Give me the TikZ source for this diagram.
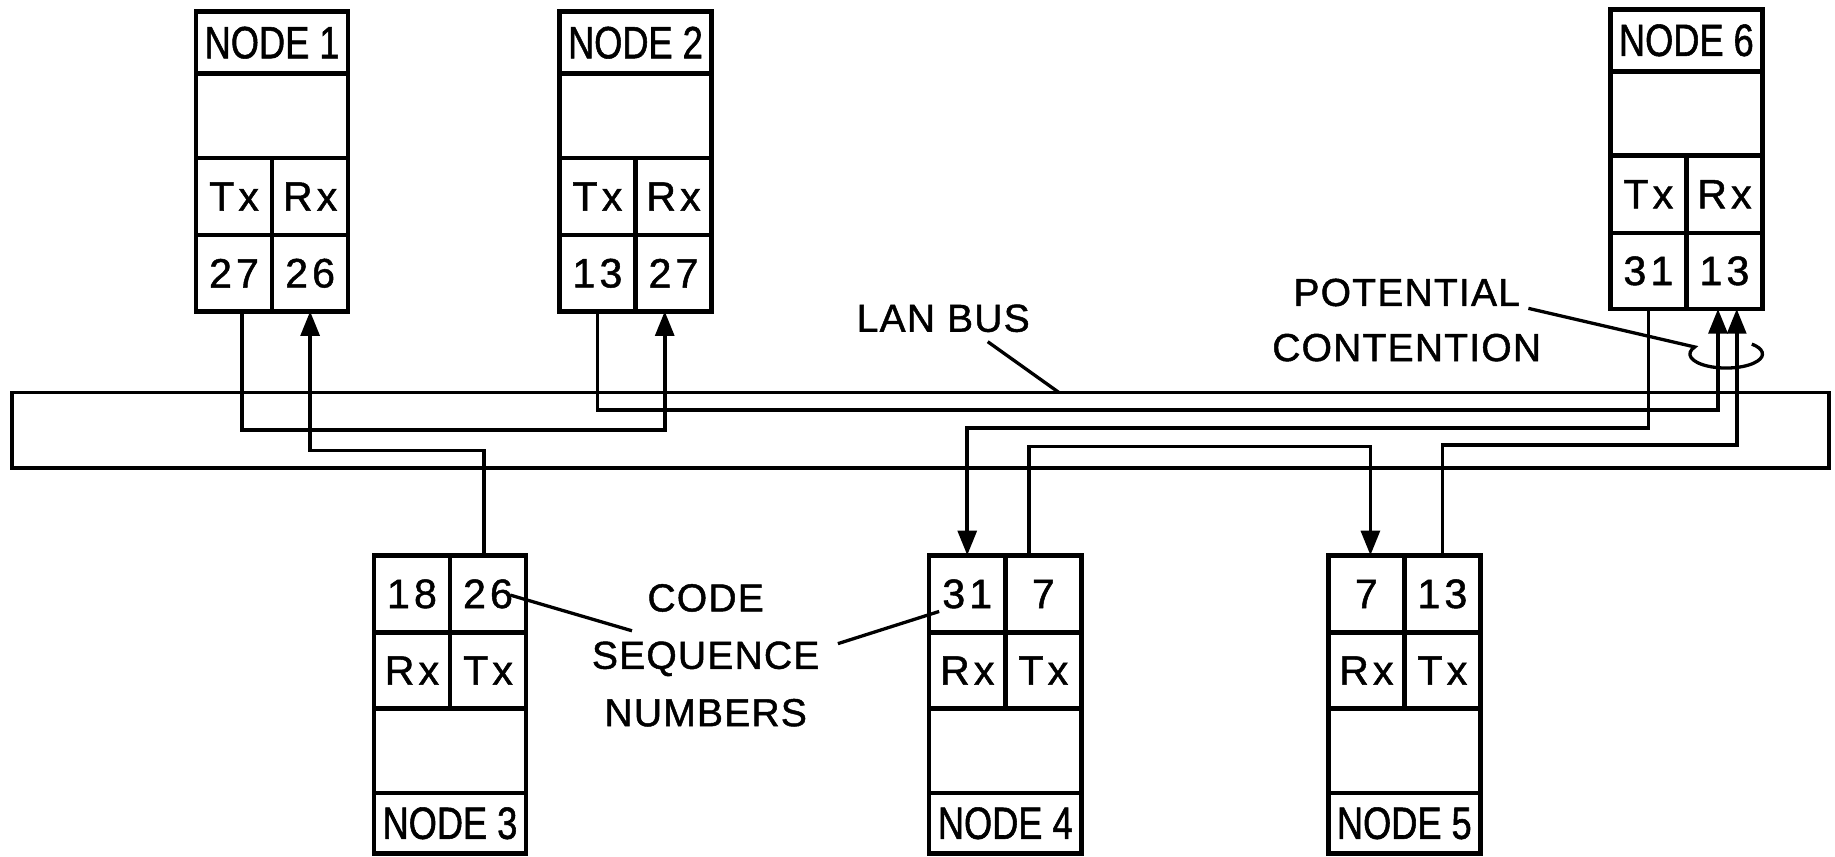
\documentclass[tikz,border=0pt]{standalone}
\usepackage{fontspec}
\setmainfont[LetterSpace=3,FakeBold=1.2]{Liberation Sans}
\newfontfamily\cellfont[LetterSpace=10,FakeBold=1.2]{Liberation Sans}
\newfontfamily\titlefont[FakeStretch=0.8,FakeBold=1.2]{Liberation Sans}
\usetikzlibrary{positioning,arrows.meta}

\begin{document}
\begin{tikzpicture}[
    cell/.style={draw, line width=2.2pt, inner sep=0pt, outer sep=0pt,
        minimum width=1.3cm, font=\cellfont\fontsize{20}{22}\selectfont},
    wide/.style={cell, minimum width=2.6cm},
    headbox/.style={wide, minimum height=1.06cm, font=\titlefont\fontsize{22}{24}\selectfont},
    wire/.style={line width=1.8pt},
    leader/.style={line width=1.6pt},
    note/.style={align=center, font=\fontsize{19}{27}\selectfont},
    >={Triangle[length=4.2mm,width=3.2mm]}
]
\useasboundingbox (0,0) rectangle (31.36,14.64);

% LAN bus
\node[draw, wire, minimum width=31.06cm, minimum height=1.29cm, inner sep=0pt, outer sep=0pt] (bus) at (15.73,7.285) {};

% Nodes above the bus
\foreach \n/\x/\y/\a/\b in {1/3.35/14.44/27/26, 2/9.56/14.44/13/27, 6/27.52/14.48/31/13} {
    \node[headbox, anchor=north west] (t\n) at (\x,\y) {NODE \n};
    \node[wide, minimum height=1.44cm, below=0pt of t\n] (m\n) {};
    \node[cell, minimum height=1.32cm, anchor=north west] (tx\n) at (m\n.south west) {Tx};
    \node[cell, minimum height=1.32cm, right=0pt of tx\n] (rx\n) {Rx};
    \node[cell, minimum height=1.3cm, below=0pt of tx\n] (a\n) {\a};
    \node[cell, minimum height=1.3cm, below=0pt of rx\n] (b\n) {\b};
}

% Nodes below the bus
\foreach \n/\x/\a/\b in {3/6.39/18/26, 4/15.88/31/7, 5/22.70/7/13} {
    \node[cell, minimum height=1.32cm, anchor=north west] (a\n) at (\x,5.15) {\a};
    \node[cell, minimum height=1.32cm, right=0pt of a\n] (b\n) {\b};
    \node[cell, minimum height=1.3cm, below=0pt of a\n] (rx\n) {Rx};
    \node[cell, minimum height=1.3cm, below=0pt of b\n] (tx\n) {Tx};
    \node[wide, minimum height=1.44cm, anchor=north west] (m\n) at (rx\n.south west) {};
    \node[headbox, minimum height=1.04cm, below=0pt of m\n] (t\n) {NODE \n};
}

% Links (Tx -> Rx)
\draw[wire,->] ([xshift=1.4mm]a1.south) -- ++(0,-2.03) -| ([xshift=-1.5mm]b2.south);
\draw[wire,->] ([xshift=-0.7mm]b3.north) -- ++(0,1.79) -| (b1.south);
\draw[wire,->] (a2.south) -- ++(0,-1.69) -| ([xshift=-1.1mm]b6.south);
\draw[wire,->] (a6.south) -- ++(0,-2.04) -| (a4.north);
\draw[wire,->] ([xshift=-2.4mm]b4.north) -- ++(0,1.86) -| ([xshift=0.7mm]a5.north);
\draw[wire,->] (b5.north) -- ++(0,1.88) -| ([xshift=2.1mm]b6.south);

% Labels
\node[note] (lan) at (16.12,9.20) {LAN BUS};
\coordinate (lanfoot) at (18.10,7.93);
\draw[leader] ([shift={(0.76,-0.40)}]lan.center) -- (lanfoot);

\node[note, font=\fontsize{19}{26.8}\selectfont] (pot) at (24.04,9.17) {POTENTIAL\\CONTENTION};
\coordinate (loop) at (29.50,8.59);
\draw[leader] ([shift={(2.08,0.20)}]pot.center) -- ([shift={(150:0.62 and 0.24)}]loop)
    arc[start angle=150, end angle=405, x radius=0.62, y radius=0.24];

\node[note, font=\fontsize{19}{27.9}\selectfont] (csn) at (12.06,3.44) {CODE\\SEQUENCE\\NUMBERS};
\coordinate (cs1) at (10.80,3.86);
\coordinate (cs2) at (14.32,3.64);
\draw[leader] ([shift={(0.38,-0.02)}]b3.center) -- (cs1);
\draw[leader] (cs2) -- ([shift={(-0.48,-0.30)}]a4.center);

\end{tikzpicture}
\end{document}
